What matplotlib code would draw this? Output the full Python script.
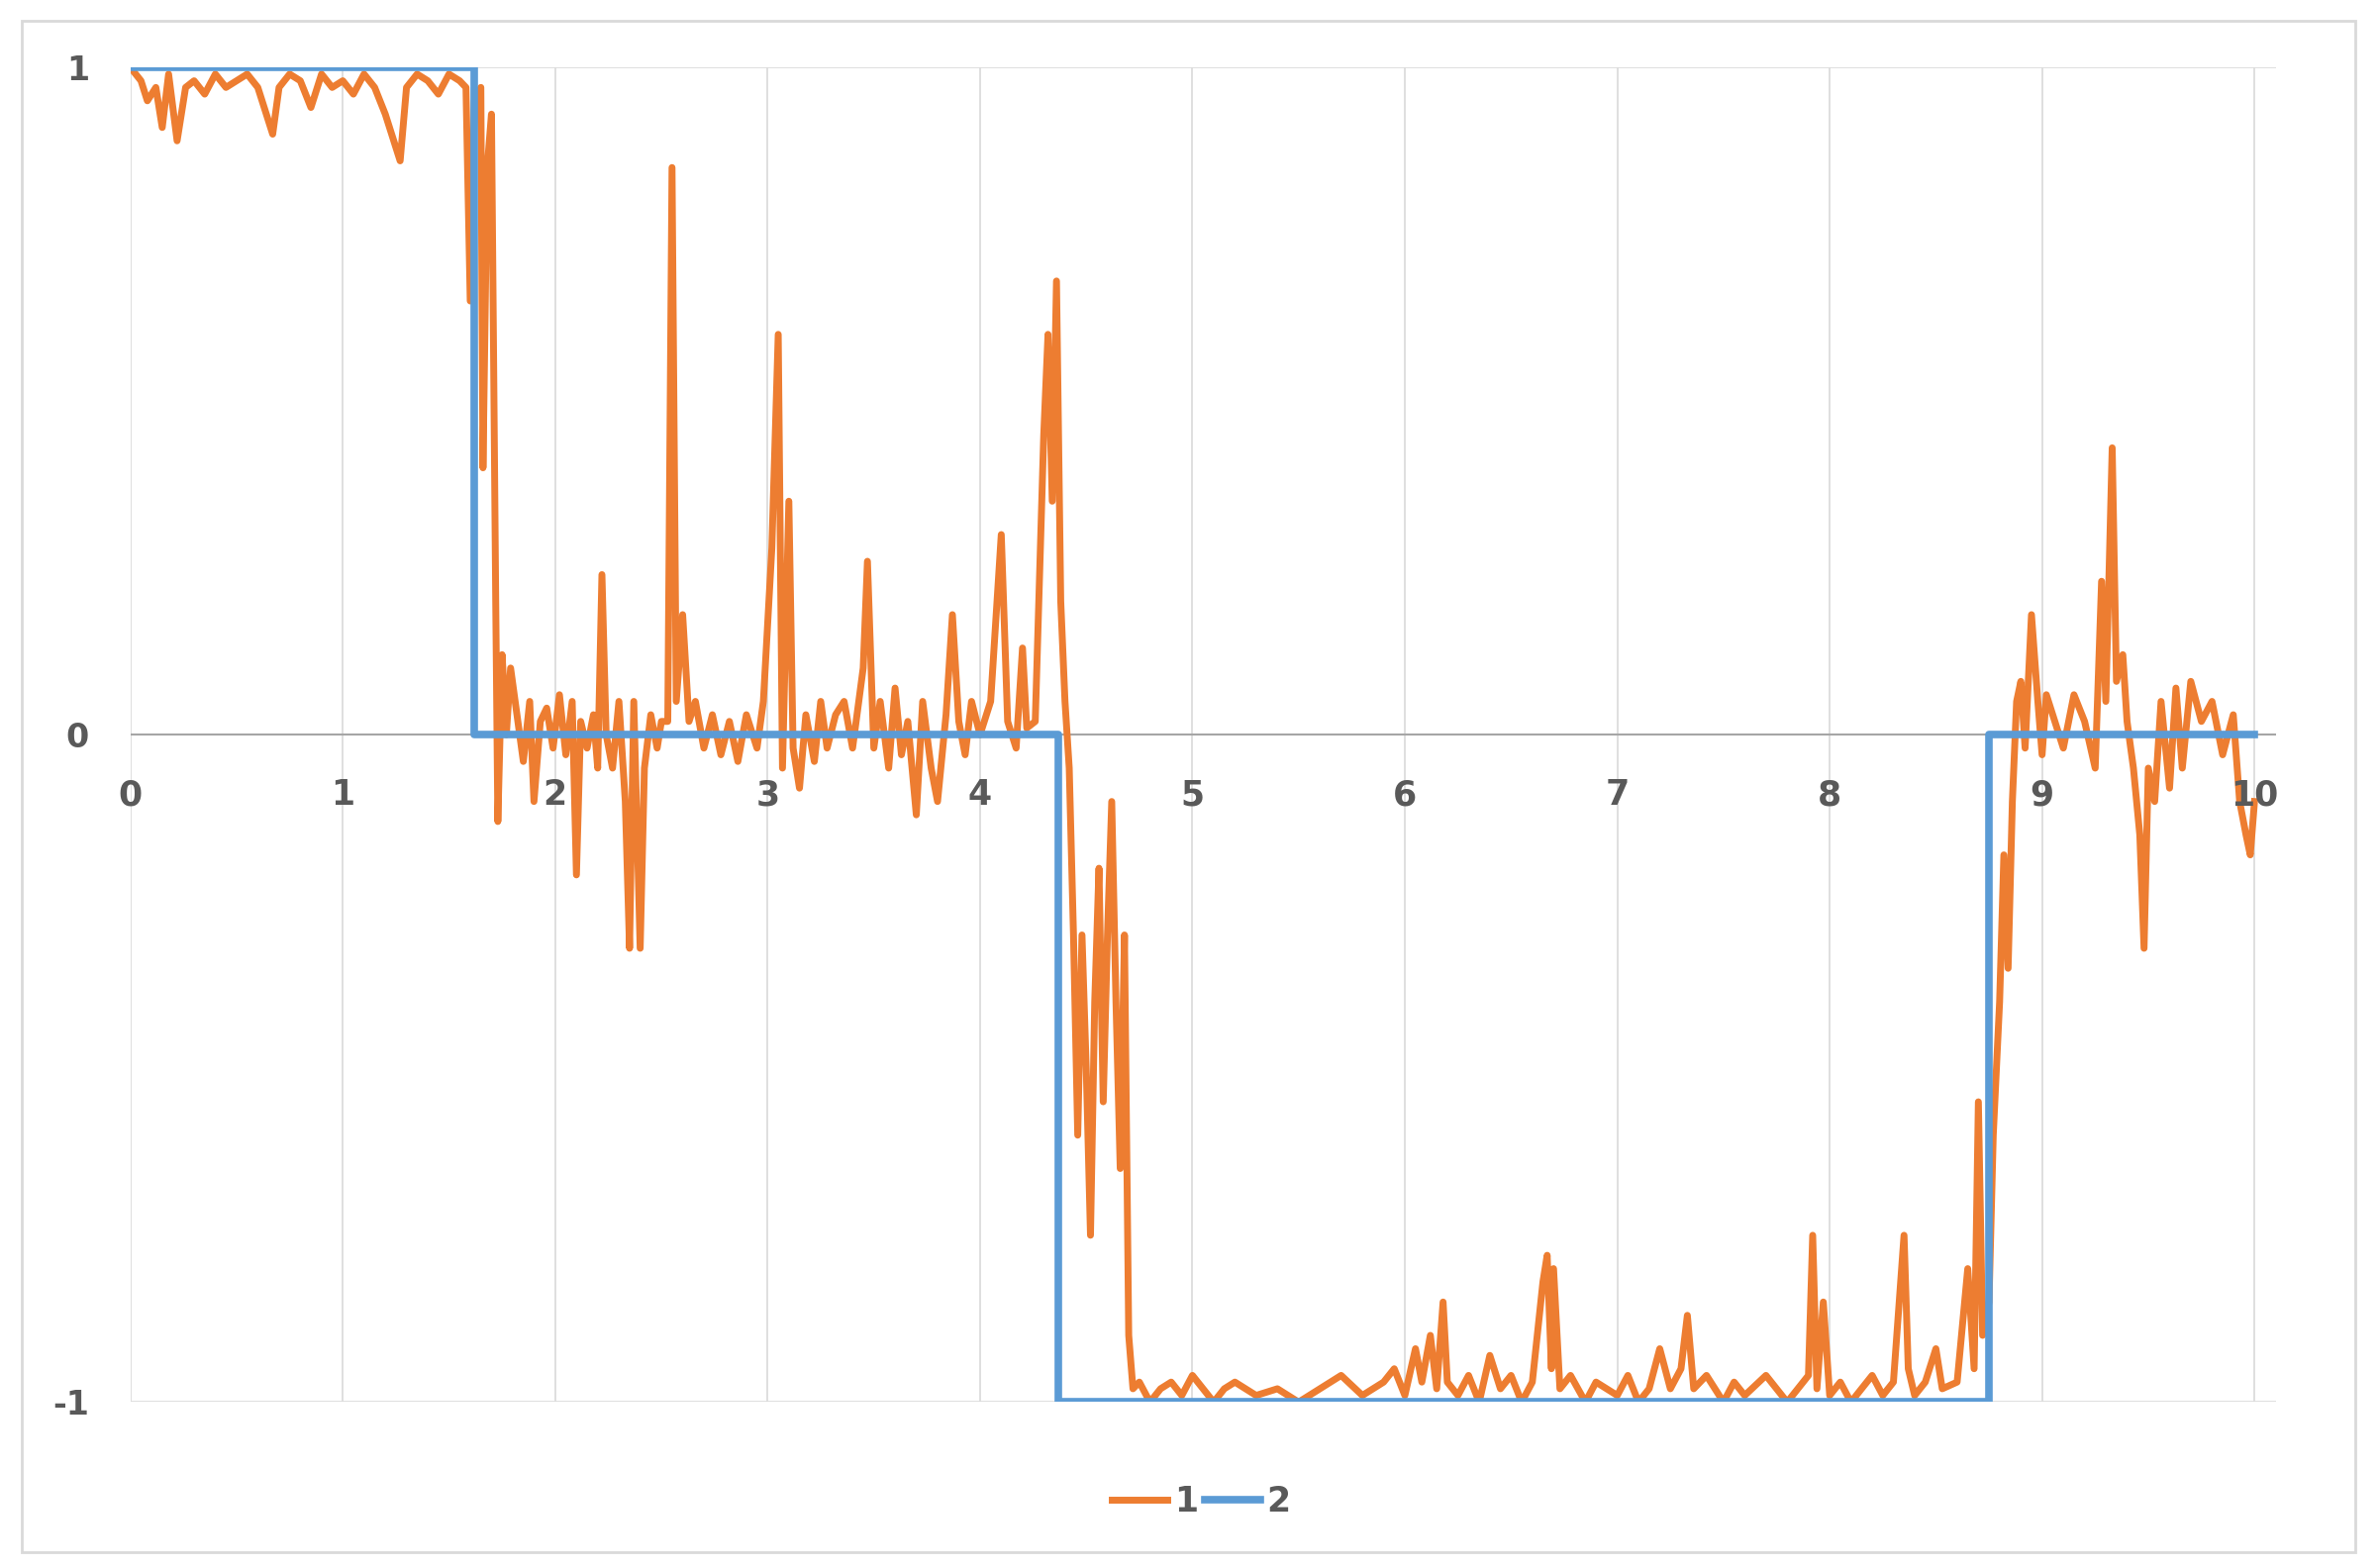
import matplotlib.pyplot as plt
from matplotlib.patches import Rectangle

# series 2: step signal
step_x = [0, 1.62, 1.62, 4.37, 4.37, 8.75, 8.75, 10]
step_y = [1, 1, 0, 0, -1, -1, 0, 0]

# series 1: noisy signal
orange_x = [0, 0.05, 0.08, 0.12, 0.15, 0.18, 0.22, 0.26, 0.3, 0.35, 0.4, 0.45, 0.5, 0.55, 0.6, 0.64, 0.67, 0.7,
            0.75, 0.8, 0.85, 0.9, 0.95, 1.0, 1.05, 1.1, 1.15, 1.2, 1.25, 1.27, 1.3, 1.35, 1.4, 1.45, 1.5, 1.55, 1.58,
            1.6, 1.62, 1.65, 1.66, 1.68, 1.7, 1.72, 1.73, 1.75, 1.77, 1.79,
            1.82, 1.85, 1.88, 1.9, 1.93, 1.96, 1.99, 2.02, 2.05, 2.08, 2.1, 2.12, 2.15, 2.18, 2.2, 2.22, 2.24, 2.27,
            2.3, 2.33, 2.35, 2.37, 2.4, 2.42, 2.45, 2.48, 2.5, 2.53, 2.55, 2.57, 2.6, 2.63, 2.66, 2.7, 2.74, 2.78,
            2.82, 2.86, 2.9, 2.95, 2.98, 3.02, 3.05, 3.07, 3.1, 3.12, 3.15, 3.18, 3.22, 3.25, 3.28, 3.32, 3.36, 3.4,
            3.45, 3.47, 3.5, 3.53, 3.57, 3.6, 3.63, 3.66, 3.7, 3.73, 3.77, 3.8, 3.84, 3.87, 3.9, 3.93, 3.96, 4.0,
            4.05, 4.1, 4.13, 4.17, 4.2, 4.22, 4.26, 4.3, 4.32, 4.34, 4.36, 4.38,
            4.4, 4.42, 4.44, 4.46, 4.48, 4.5, 4.52, 4.54, 4.56, 4.58, 4.6, 4.62, 4.64, 4.66, 4.68, 4.7, 4.72,
            4.75, 4.8, 4.85, 4.9, 4.95, 5.0, 5.05, 5.1, 5.15, 5.2, 5.3, 5.4, 5.5, 5.6, 5.7, 5.8, 5.9, 5.95, 6.0,
            6.05, 6.08, 6.12, 6.15, 6.18, 6.2, 6.25, 6.3, 6.35, 6.4, 6.45, 6.5, 6.55, 6.6, 6.65, 6.67, 6.69, 6.7,
            6.73, 6.78, 6.85, 6.9, 7.0, 7.05, 7.1, 7.15, 7.2, 7.25, 7.3, 7.33, 7.36, 7.42, 7.5, 7.55, 7.6, 7.7,
            7.8, 7.85, 7.9, 7.92, 7.94, 7.97, 8.0, 8.05, 8.1, 8.15, 8.2, 8.25, 8.3, 8.35, 8.37, 8.4, 8.45, 8.5,
            8.53, 8.6, 8.65, 8.68, 8.7, 8.72,
            8.75, 8.77, 8.8, 8.82, 8.84, 8.86, 8.88,
            8.9, 8.92, 8.95, 8.98, 9.0, 9.02, 9.05, 9.1, 9.15, 9.2, 9.25, 9.28, 9.3, 9.33, 9.35, 9.38, 9.4, 9.43,
            9.46, 9.48, 9.5, 9.53, 9.56, 9.6, 9.63, 9.66, 9.7, 9.75, 9.8, 9.85, 9.9, 9.93, 9.96, 9.98, 10]
orange_y = [1, 0.98, 0.95, 0.97, 0.91, 0.99, 0.89, 0.97, 0.98, 0.96, 0.99, 0.97, 0.98, 0.99, 0.97, 0.93, 0.9, 0.97,
            0.99, 0.98, 0.94, 0.99, 0.97, 0.98, 0.96, 0.99, 0.97, 0.93, 0.88, 0.86, 0.97, 0.99, 0.98, 0.96, 0.99, 0.98, 0.97,
            0.65, 0.95, 0.97, 0.4, 0.85, 0.93, 0.2, -0.13, 0.12, 0.0, 0.1,
            0.03, -0.04, 0.05, -0.1, 0.02, 0.04, -0.02, 0.06, -0.03, 0.05, -0.21, 0.02, -0.02, 0.03, -0.05, 0.24, 0.0, -0.05,
            0.05, -0.1, -0.32, 0.05, -0.32, -0.05, 0.03, -0.02, 0.02, 0.02, 0.85, 0.05, 0.18, 0.02, 0.05, -0.02, 0.03, -0.03,
            0.02, -0.04, 0.03, -0.02, 0.05, 0.28, 0.6, -0.05, 0.35, -0.02, -0.08, 0.03, -0.04, 0.05, -0.02, 0.03, 0.05, -0.02,
            0.1, 0.26, -0.02, 0.05, -0.05, 0.07, -0.03, 0.02, -0.12, 0.05, -0.05, -0.1, 0.03, 0.18, 0.02, -0.03, 0.05, 0.0,
            0.05, 0.3, 0.02, -0.02, 0.13, 0.01, 0.02, 0.45, 0.6, 0.35, 0.68, 0.2,
            0.05, -0.05, -0.3, -0.6, -0.3, -0.5, -0.75, -0.4, -0.2, -0.55, -0.3, -0.1, -0.4, -0.65, -0.3, -0.9, -0.98,
            -0.97, -1.0, -0.98, -0.97, -0.99, -0.96, -0.98, -1.0, -0.98, -0.97, -0.99, -0.98, -1.0, -0.98, -0.96, -0.99, -0.97, -0.95, -0.99,
            -0.92, -0.97, -0.9, -0.98, -0.85, -0.97, -0.99, -0.96, -1.0, -0.93, -0.98, -0.96, -1.0, -0.97, -0.82, -0.78, -0.95, -0.8,
            -0.98, -0.96, -1.0, -0.97, -0.99, -0.96, -1.0, -0.98, -0.92, -0.98, -0.95, -0.87, -0.98, -0.96, -1.0, -0.97, -0.99, -0.96,
            -1.0, -0.98, -0.96, -0.75, -0.98, -0.85, -0.99, -0.97, -1.0, -0.98, -0.96, -0.99, -0.97, -0.75, -0.95, -0.99, -0.97, -0.92,
            -0.98, -0.97, -0.8, -0.95, -0.55, -0.9,
            -0.85, -0.6, -0.4, -0.18, -0.35, -0.1, 0.05,
            0.08, -0.02, 0.18, 0.05, -0.03, 0.06, 0.03, -0.02, 0.06, 0.02, -0.05, 0.23, 0.05, 0.43, 0.08, 0.12, 0.02, -0.05,
            -0.15, -0.32, -0.05, -0.1, 0.05, -0.08, 0.07, -0.05, 0.08, 0.02, 0.05, -0.03, 0.03, -0.1, -0.15, -0.18, -0.1]

x_ticks = list(range(0, 11))
y_ticks = [-1, 0, 1]

gray = '#595959'
fig = plt.figure(figsize=(24.03, 15.84), dpi=100)
fig.patches.append(Rectangle((0.009, 0.01), 0.981, 0.977, transform=fig.transFigure,
                             fill=False, edgecolor='#d9d9d9', linewidth=2))
ax = fig.add_axes([0.0548, 0.1058, 0.9018, 0.8512])

ax.plot(orange_x, orange_y, color='#ED7D31', linewidth=5, label='1')
ax.plot(step_x, step_y, color='#5B9BD5', linewidth=5.5, label='2')

ax.set_xlim(0, 10.1)
ax.set_ylim(-1, 1)
for v in x_ticks:
    ax.axvline(v, color='#d9d9d9', linewidth=1.2, zorder=0)
ax.axhline(1, color='#d9d9d9', linewidth=1.2, zorder=0)
ax.axhline(-1, color='#d9d9d9', linewidth=1.2, zorder=0)
ax.axhline(0, color='#a6a6a6', linewidth=1.5, zorder=0)
for s in ax.spines.values():
    s.set_visible(False)
ax.set_xticks([])
ax.set_yticks(y_ticks)
ax.set_yticklabels([str(v) for v in y_ticks], fontsize=24, color=gray, fontweight='bold')
ax.tick_params(axis='y', length=0, pad=30)

for v in x_ticks:
    ax.text(v, -0.065, str(v), ha='center', va='top', fontsize=25, fontweight='bold', color=gray)

fig.legend(loc='center', bbox_to_anchor=(0.505, 0.042), ncol=2, frameon=False,
           handlelength=1.6, handletextpad=0.2, columnspacing=0.2, prop={'size': 25, 'weight': 'bold'},
           labelcolor=gray)

fig.savefig('out.png', dpi=100)
